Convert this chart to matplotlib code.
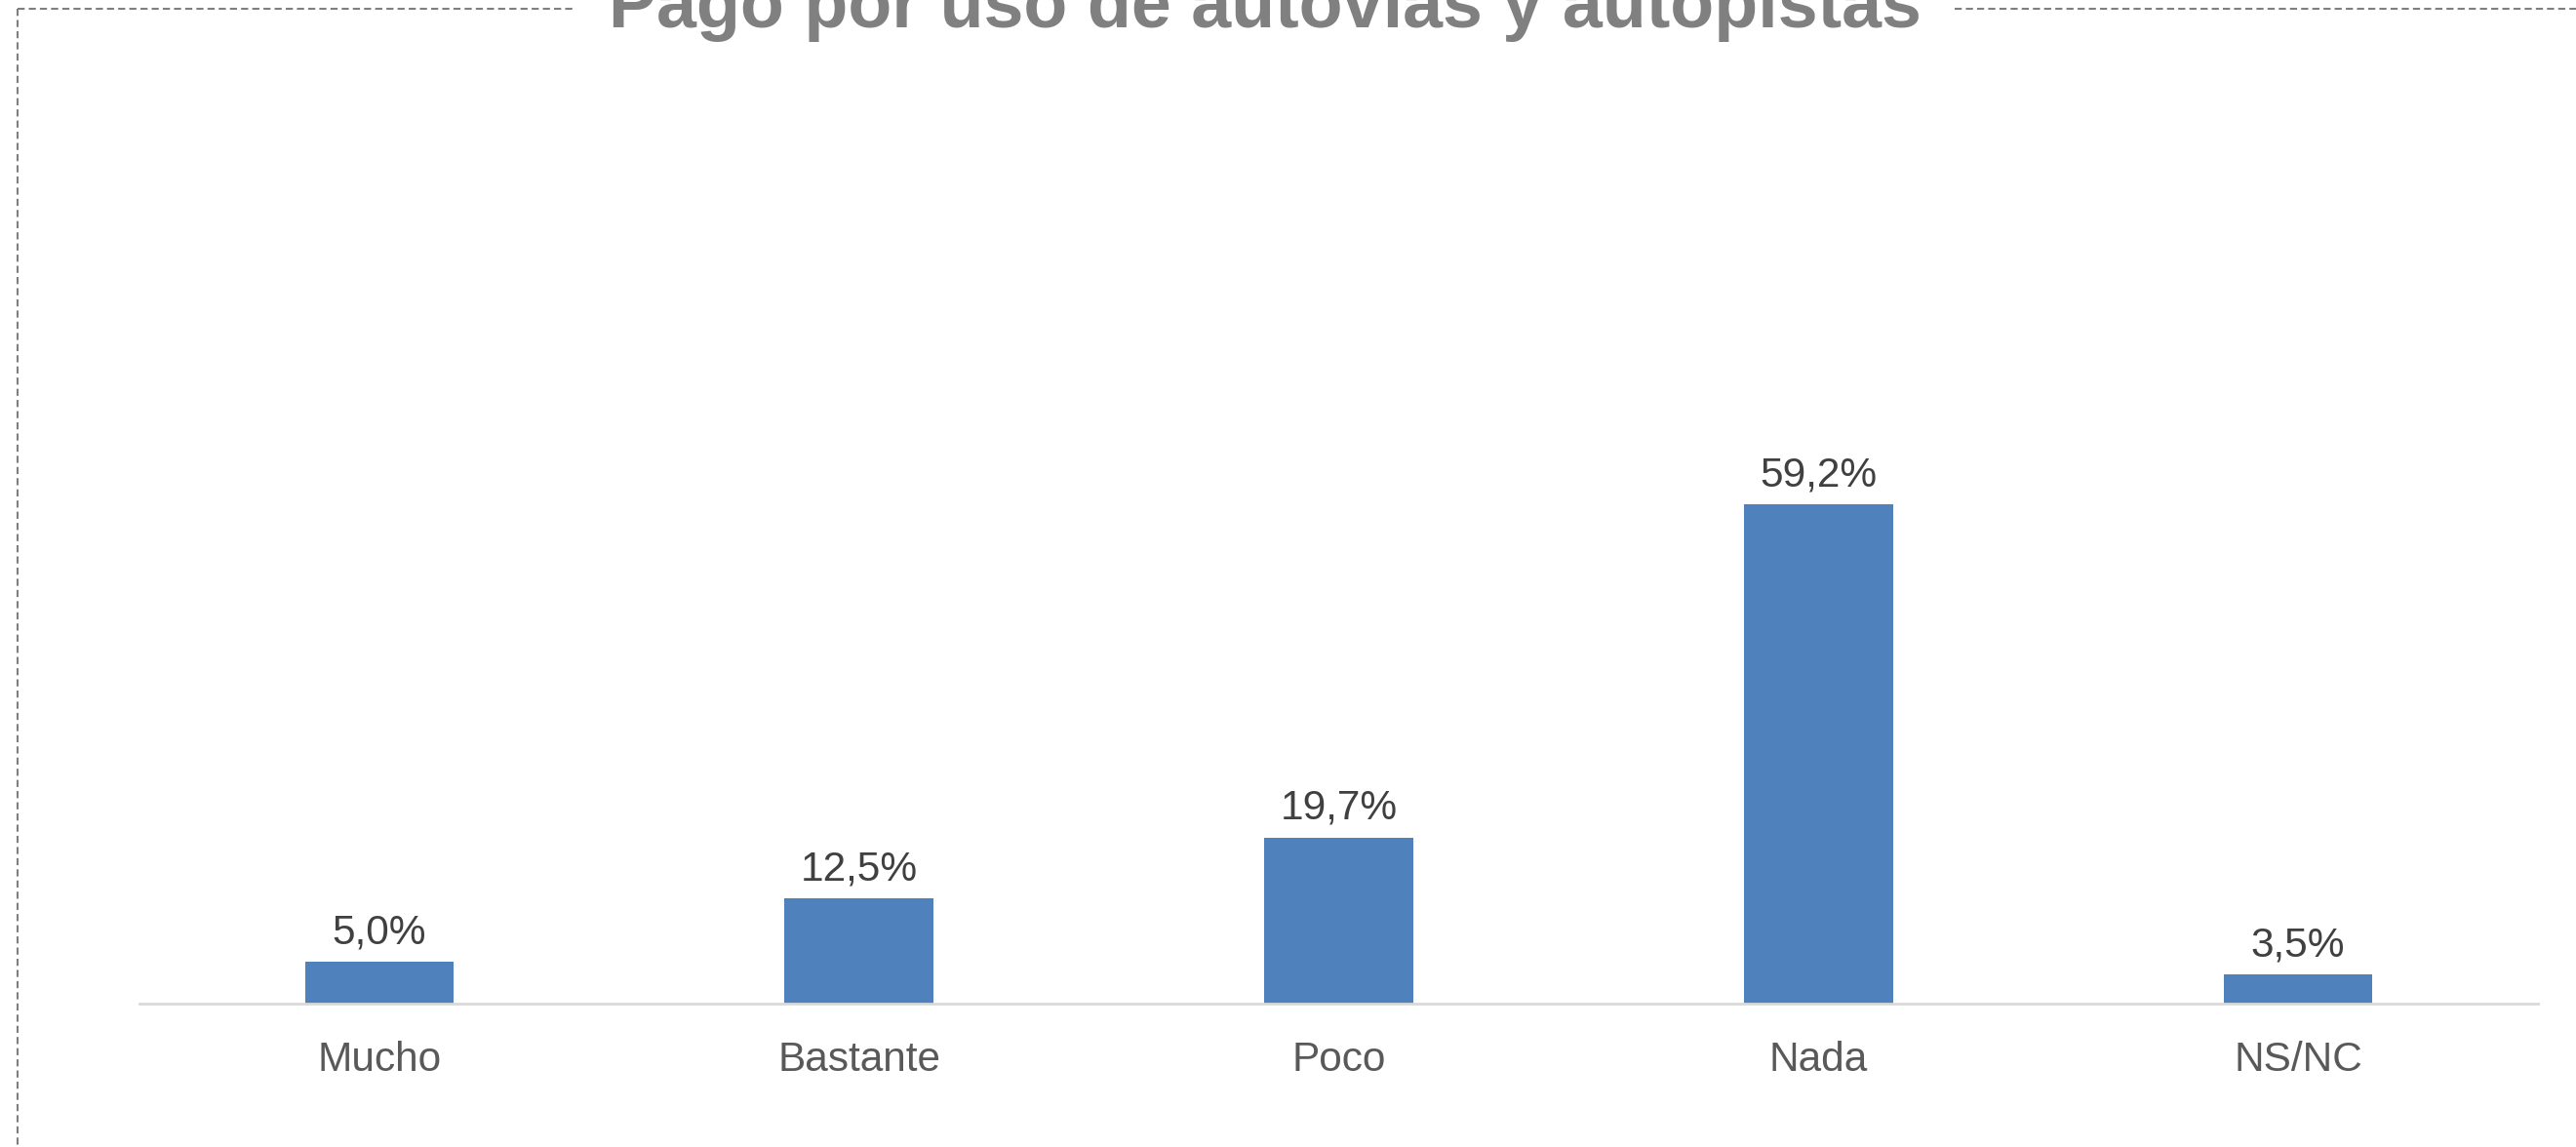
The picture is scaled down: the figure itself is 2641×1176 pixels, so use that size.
import matplotlib
matplotlib.use('Agg')
import matplotlib.pyplot as plt
from matplotlib.lines import Line2D

plt.rcParams['font.family'] = ['Liberation Sans', 'DejaVu Sans']

# datos
categorias = ['Mucho', 'Bastante', 'Poco', 'Nada', 'NS/NC']
valores = [5.0, 12.5, 19.7, 59.2, 3.5]
titulo = 'Pago por uso de autovías y autopistas'

W, H = 2641, 1176
fig = plt.figure(figsize=(W / 100, H / 100), dpi=100)
ax = fig.add_axes([143 / W, 147 / H, 0.9311, 0.5148])

x = range(len(categorias))
barras = ax.bar(x, valores, width=0.31, color='#4F81BD')
etiquetas = [f'{v:.1f}%'.replace('.', ',') for v in valores]
ax.bar_label(barras, labels=etiquetas, padding=7, fontsize=30.5, color='#404040')

ax.set_xlim(-0.5, len(categorias) - 0.5)
ax.set_ylim(0, 70)
ax.set_xticks(list(x))
ax.set_xticklabels(categorias, fontsize=30.5, color='#595959')
ax.tick_params(axis='x', length=0, pad=27)
ax.set_yticks([])
for s in ['top', 'right', 'left']:
    ax.spines[s].set_visible(False)
ax.spines['bottom'].set_color('#D9D9D9')
ax.spines['bottom'].set_linewidth(2)

# título (recortado arriba como en el original)
fig.text(1297 / W, 1 - 28 / H, titulo, ha='center', va='baseline',
         fontsize=53, fontweight='bold', color='#808080')

# borde discontinuo
estilo = dict(color='#7F7F7F', linewidth=1.5, linestyle=(0, (3.5, 2)))
fx = lambda px: px / W
fy = lambda py: 1 - py / H
fig.add_artist(Line2D([fx(18), fx(18)], [fy(9), fy(H)], **estilo))
fig.add_artist(Line2D([fx(18), fx(588)], [fy(9), fy(9)], **estilo))
fig.add_artist(Line2D([fx(2004), fx(W)], [fy(9), fy(9)], **estilo))

fig.savefig('out.png', dpi=100)
